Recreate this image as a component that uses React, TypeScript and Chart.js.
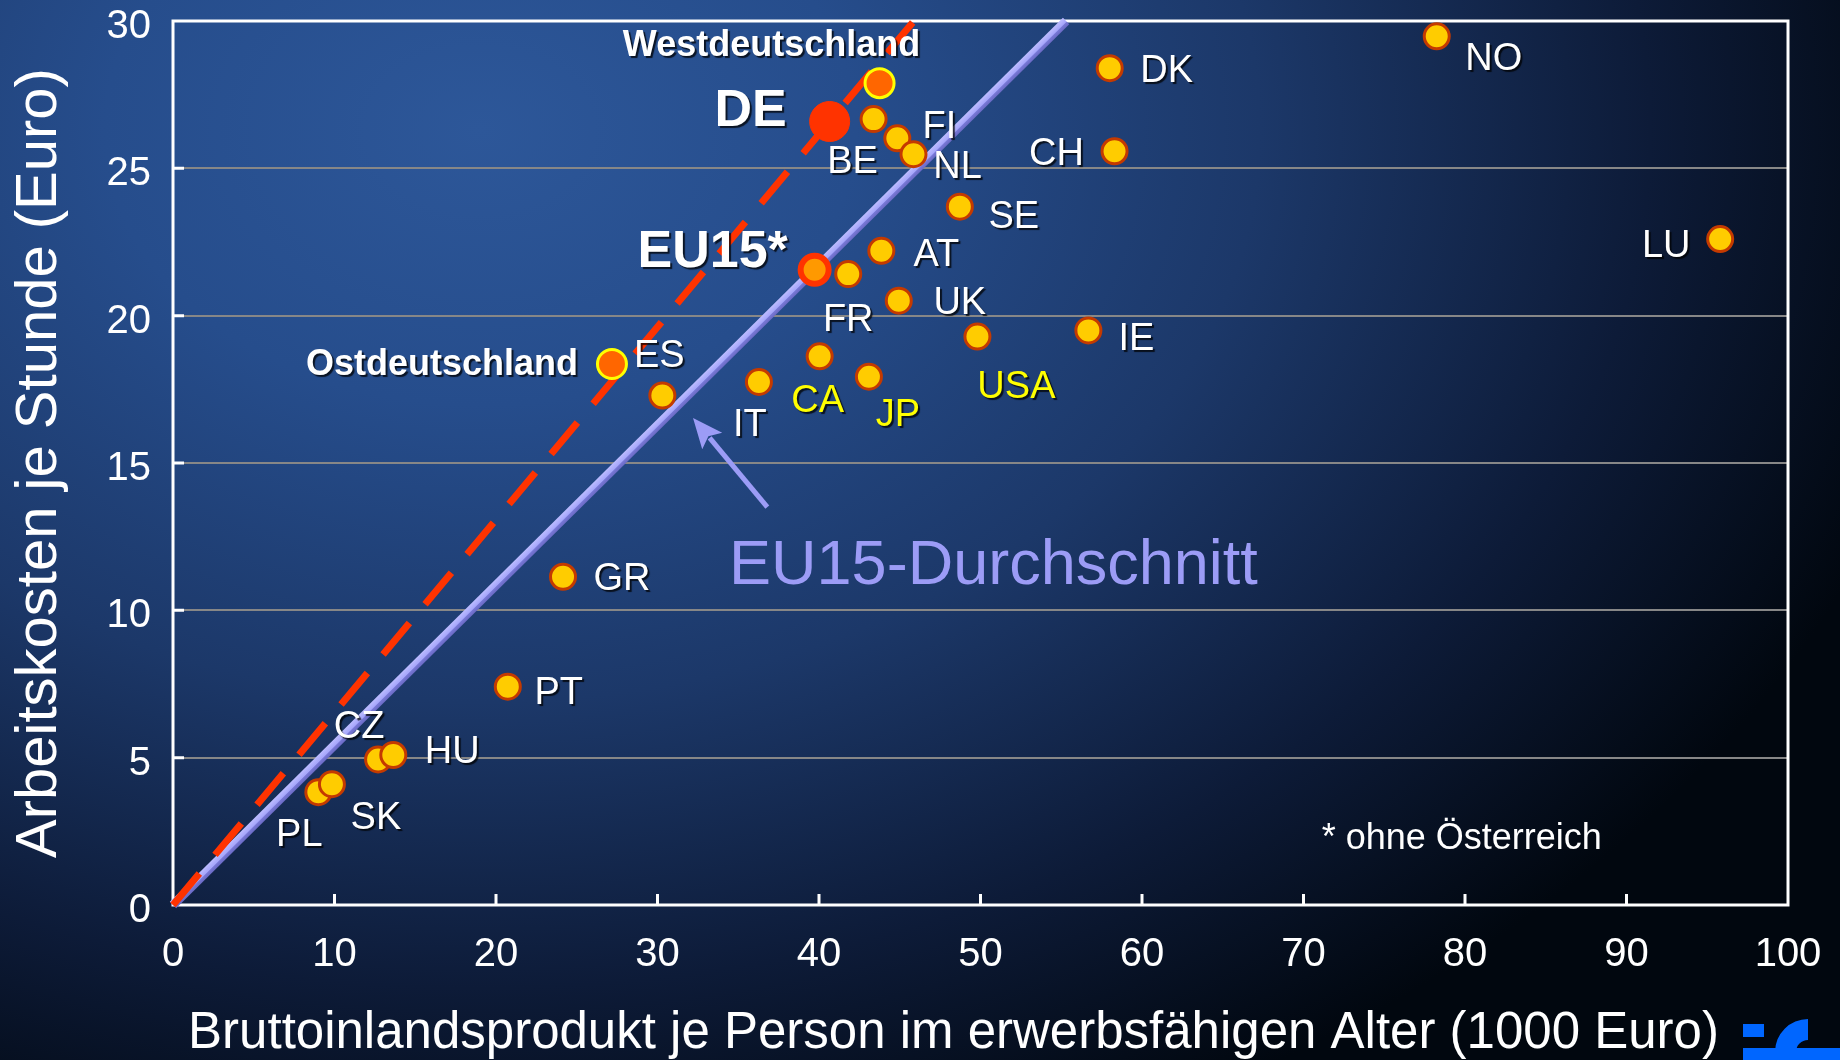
import React, { useEffect, useRef } from "react";
import { Chart, registerables } from "chart.js";

Chart.register(...registerables);

// ---------- data ----------
const countries = [
  "Westdeutschland", "DE", "BE", "FI", "NL", "DK", "NO", "CH", "SE", "LU",
  "EU15*", "FR", "AT", "UK", "IE", "USA", "CA", "JP", "IT", "Ostdeutschland",
  "ES", "GR", "PT", "CZ", "HU", "PL", "SK",
];
// BIP je Person im erwerbsfähigen Alter (1000 Euro)
const gdp = [
  43.75, 40.66, 43.38, 44.85, 45.85, 58.0, 78.25, 58.3, 48.72, 95.8,
  39.73, 41.81, 43.86, 44.94, 56.68, 49.81, 40.04, 43.09, 36.28, 27.18,
  30.3, 24.15, 20.73, 12.7, 13.64, 9.0, 9.84,
];
// Arbeitskosten je Stunde (Euro)
const labourCost = [
  27.89, 26.59, 26.67, 26.02, 25.48, 28.4, 29.48, 25.58, 23.7, 22.6,
  21.56, 21.41, 22.2, 20.51, 19.5, 19.29, 18.62, 17.93, 17.75, 18.36,
  17.29, 11.14, 7.41, 4.94, 5.09, 3.83, 4.1,
];
const avgLineX = [0, 55.3];
const avgLineY = [0, 30];
const deLineX = [0, 45.8];
const deLineY = [0, 29.95];
const arrowTail = [36.8, 13.5];
const arrowTip = [32.2, 16.53];
const xTickValues = [0, 10, 20, 30, 40, 50, 60, 70, 80, 90, 100];
const yTickValues = [0, 5, 10, 15, 20, 25, 30];
const xTitle = "Bruttoinlandsprodukt je Person im erwerbsfähigen Alter (1000 Euro)";
const yTitle = "Arbeitskosten je Stunde (Euro)";
const avgCaption = "EU15-Durchschnitt";
const footNote = "* ohne Österreich";
const avgCaptionAt = [50.8, 11.66];
const footNoteAt = [79.8, 2.33];

// ---------- styles ----------
const FONT = '"Liberation Sans", Arial, Helvetica, sans-serif';
const kindOf: Record<string, string> = {
  DE: "de",
  "EU15*": "eu",
  Westdeutschland: "region",
  Ostdeutschland: "region",
};
const pointStyles: Record<string, { r: number; w: number; fill: string; stroke: string }> = {
  normal: { r: 12.5, w: 3, fill: "#ffcc00", stroke: "#c43a00" },
  de: { r: 20, w: 1, fill: "#ff3300", stroke: "#ff3300" },
  eu: { r: 14, w: 6, fill: "#ff9900", stroke: "#ff3300" },
  region: { r: 14.5, w: 3, fill: "#ff6600", stroke: "#ffff00" },
};
// label offsets from the dot centre in px (dx, dy of cap centre)
const labelOffsets: Record<string, [number, number]> = {
  Westdeutschland: [-108, -40],
  DE: [-79, -14],
  BE: [-21, 40],
  FI: [42, -14],
  NL: [44, 10],
  DK: [57, 0],
  NO: [57, 20],
  CH: [-58, 0],
  SE: [54, 8],
  LU: [-54, 4],
  "EU15*": [-102, -21],
  FR: [0, 43],
  AT: [55, 2],
  UK: [61, 0],
  IE: [48, 6],
  USA: [39, 48],
  CA: [-2, 42],
  JP: [29, 36],
  IT: [-9, 40],
  Ostdeutschland: [-170, -2],
  ES: [-3, -42],
  GR: [59, 0],
  PT: [51, 4],
  CZ: [-19, -35],
  HU: [59, -6],
  PL: [-19, 40],
  SK: [44, 31],
};
const labelFonts: Record<string, { size: number; weight: string }> = {
  Westdeutschland: { size: 36, weight: "bold" },
  Ostdeutschland: { size: 36, weight: "bold" },
  DE: { size: 52, weight: "bold" },
  "EU15*": { size: 52, weight: "bold" },
};
const yellowLabels = new Set(["USA", "CA", "JP"]);

function drawText(
  ctx: CanvasRenderingContext2D,
  text: string,
  x: number,
  capY: number,
  size: number,
  weight: string,
  color: string,
  shadow = true
) {
  ctx.save();
  ctx.font = `${weight} ${size}px ${FONT}`;
  ctx.textAlign = "center";
  ctx.textBaseline = "alphabetic";
  ctx.fillStyle = color;
  if (shadow) {
    ctx.shadowColor = "rgba(0,0,0,0.75)";
    ctx.shadowOffsetX = 2;
    ctx.shadowOffsetY = 2;
    ctx.shadowBlur = 1;
  }
  ctx.fillText(text, x, capY + 0.358 * size);
  ctx.restore();
}

const overlayPlugin = {
  id: "overlay",
  beforeDatasetsDraw(chart: any) {
    const { ctx, chartArea: a, scales } = chart;
    const xs = scales.x, ys = scales.y;
    ctx.save();
    ctx.strokeStyle = "#ffffff";
    ctx.lineWidth = 3;
    ctx.lineCap = "butt";
    ctx.strokeRect(a.left, a.top, a.right - a.left, a.bottom - a.top);
    ctx.beginPath();
    yTickValues.forEach((v) => {
      if (v === 0 || v === 30) return;
      const y = ys.getPixelForValue(v);
      ctx.moveTo(a.left, y);
      ctx.lineTo(a.left + 11, y);
    });
    xTickValues.forEach((v) => {
      if (v === 0 || v === 100) return;
      const x = xs.getPixelForValue(v);
      ctx.moveTo(x, a.bottom);
      ctx.lineTo(x, a.bottom - 11);
    });
    ctx.stroke();
    ctx.restore();
  },
  afterDatasetsDraw(chart: any) {
    const { ctx, scales } = chart;
    const xs = scales.x, ys = scales.y;
    // arrow
    const tx = xs.getPixelForValue(arrowTail[0]);
    const ty = ys.getPixelForValue(arrowTail[1]);
    const hx = xs.getPixelForValue(arrowTip[0]);
    const hy = ys.getPixelForValue(arrowTip[1]);
    const ang = Math.atan2(hy - ty, hx - tx);
    const headLen = 30, headHalf = 13;
    const bx = hx - Math.cos(ang) * headLen;
    const by = hy - Math.sin(ang) * headLen;
    ctx.save();
    ctx.strokeStyle = "#9c9cf6";
    ctx.fillStyle = "#9c9cf6";
    ctx.lineWidth = 5;
    ctx.beginPath();
    ctx.moveTo(tx, ty);
    ctx.lineTo(bx + Math.cos(ang) * 4, by + Math.sin(ang) * 4);
    ctx.stroke();
    ctx.beginPath();
    ctx.moveTo(hx, hy);
    ctx.lineTo(bx - Math.sin(ang) * headHalf, by + Math.cos(ang) * headHalf);
    ctx.lineTo(bx + Math.cos(ang) * 6, by + Math.sin(ang) * 6);
    ctx.lineTo(bx + Math.sin(ang) * headHalf, by - Math.cos(ang) * headHalf);
    ctx.closePath();
    ctx.fill();
    ctx.restore();

    // point labels
    countries.forEach((name, i) => {
      const off = labelOffsets[name] || [40, 0];
      const f = labelFonts[name] || { size: 38, weight: "normal" };
      const x = xs.getPixelForValue(gdp[i]) + off[0];
      const y = ys.getPixelForValue(labourCost[i]) + off[1];
      drawText(ctx, name, x, y, f.size, f.weight, yellowLabels.has(name) ? "#ffff00" : "#ffffff");
    });

    drawText(
      ctx, avgCaption,
      xs.getPixelForValue(avgCaptionAt[0]), ys.getPixelForValue(avgCaptionAt[1]),
      63, "normal", "#9c9cf6", false
    );
    drawText(
      ctx, footNote,
      xs.getPixelForValue(footNoteAt[0]), ys.getPixelForValue(footNoteAt[1]),
      36, "normal", "#ffffff", false
    );
  },
  afterDraw(chart: any) {
    const { ctx, chartArea: a } = chart;
    // x axis title (slightly left of the plot centre, as in the slide)
    ctx.save();
    ctx.font = `normal 51px ${FONT}`;
    ctx.textAlign = "center";
    ctx.textBaseline = "alphabetic";
    ctx.fillStyle = "#ffffff";
    ctx.fillText(xTitle, (a.left + a.right) / 2 - 27, a.bottom + 143);
    ctx.restore();

    // logo fragment
    ctx.save();
    ctx.fillStyle = "#0066ff";
    ctx.fillRect(1743, 1024, 21, 13);
    ctx.fillRect(1743, 1048, 97, 12);
    ctx.beginPath();
    ctx.arc(1808, 1052, 33, Math.PI, 1.5 * Math.PI);
    ctx.lineTo(1808, 1040);
    ctx.arc(1808, 1052, 12, 1.5 * Math.PI, Math.PI, true);
    ctx.closePath();
    ctx.fill();
    ctx.restore();
  },
};

export default function App() {
  const canvasRef = useRef<HTMLCanvasElement | null>(null);

  useEffect(() => {
    const canvas = canvasRef.current;
    if (!canvas) return;
    const styleFor = (name: string) => pointStyles[kindOf[name] || "normal"];

    const avgColor = (c: any) => {
      const chart = c.chart;
      const xs = chart.scales?.x, ys = chart.scales?.y;
      if (!xs || !ys || !chart.chartArea) return "#a4a4fa";
      const x0 = xs.getPixelForValue(avgLineX[0]), y0 = ys.getPixelForValue(avgLineY[0]);
      const x1 = xs.getPixelForValue(avgLineX[1]), y1 = ys.getPixelForValue(avgLineY[1]);
      const dx = x1 - x0, dy = y1 - y0, len = Math.hypot(dx, dy) || 1;
      const nx = -dy / len, ny = dx / len;
      const hw = 4.5;
      const g = chart.ctx.createLinearGradient(x0 - nx * hw, y0 - ny * hw, x0 + nx * hw, y0 + ny * hw);
      g.addColorStop(0, "#bcbcff");
      g.addColorStop(0.55, "#a6a6fb");
      g.addColorStop(0.65, "#7878d6");
      g.addColorStop(1, "#6a6ac4");
      return g;
    };

    const chart = new Chart(canvas, {
      type: "scatter",
      data: {
        datasets: [
          {
            label: "Länder",
            data: gdp.map((x, i) => ({ x, y: labourCost[i] })),
            order: 0,
            showLine: false,
            pointRadius: countries.map((n) => styleFor(n).r),
            pointBorderWidth: countries.map((n) => styleFor(n).w),
            pointBackgroundColor: countries.map((n) => styleFor(n).fill),
            pointBorderColor: countries.map((n) => styleFor(n).stroke),
            pointHoverRadius: countries.map((n) => styleFor(n).r),
          } as any,
          {
            label: "DE-Linie",
            data: deLineX.map((x, i) => ({ x, y: deLineY[i] })),
            order: 1,
            showLine: true,
            borderColor: "#ff3300",
            borderWidth: 7,
            borderDash: [41, 24.4],
            pointRadius: 0,
            clip: 10,
          } as any,
          {
            label: "EU15-Durchschnitt",
            data: avgLineX.map((x, i) => ({ x, y: avgLineY[i] })),
            order: 2,
            showLine: true,
            borderColor: avgColor,
            borderWidth: 9,
            pointRadius: 0,
            clip: 10,
          } as any,
        ],
      },
      options: {
        responsive: false,
        devicePixelRatio: 1,
        animation: false,
        events: [],
        layout: { padding: { top: 20, right: 52, left: 0, bottom: 0 } },
        plugins: {
          legend: { display: false },
          tooltip: { enabled: false },
        },
        scales: {
          x: {
            type: "linear",
            min: 0,
            max: 100,
            afterBuildTicks: (s: any) => {
              s.ticks = xTickValues.map((value) => ({ value }));
            },
            afterFit: (s: any) => {
              s.height = 155;
            },
            grid: {
              display: true,
              drawOnChartArea: false,
              drawTicks: true,
              tickLength: 26,
              color: "rgba(0,0,0,0)",
              tickColor: "rgba(0,0,0,0)",
            },
            border: { display: false },
            ticks: {
              color: "#ffffff",
              padding: 0,
              maxRotation: 0,
              autoSkip: false,
              font: { family: FONT, size: 40 },
            },
            title: { display: false, text: xTitle },
          },
          y: {
            type: "linear",
            min: 0,
            max: 30,
            afterBuildTicks: (s: any) => {
              s.ticks = yTickValues.map((value) => ({ value }));
            },
            afterFit: (s: any) => {
              s.width = 173;
            },
            grid: {
              drawTicks: true,
              tickLength: 22,
              tickColor: "rgba(0,0,0,0)",
              lineWidth: 2,
              color: (c: any) =>
                c.tick && (c.tick.value === 0 || c.tick.value === 30) ? "rgba(0,0,0,0)" : "#878787",
            },
            border: { display: false },
            ticks: {
              color: "#ffffff",
              padding: 0,
              labelOffset: 6,
              font: { family: FONT, size: 40, lineHeight: 1 },
            },
            title: {
              display: true,
              text: yTitle,
              color: "#ffffff",
              font: { family: FONT, size: 58, lineHeight: 1 },
              padding: { top: 11, bottom: 0 },
            },
          },
        },
      } as any,
      plugins: [overlayPlugin],
    });
    return () => chart.destroy();
  }, []);

  return (
    <div
      style={{
        position: "fixed",
        left: 0,
        top: 0,
        width: 1840,
        height: 1060,
        overflow: "hidden",
        background:
          "radial-gradient(ellipse 1500px 1100px at 480px 130px, #2d5799 0%, #264d8c 25%, #1c3869 52%, #0d1b38 78%, #01070f 100%)",
      }}
    >
      <canvas ref={canvasRef} width={1840} height={1060} style={{ display: "block" }} />
    </div>
  );
}
